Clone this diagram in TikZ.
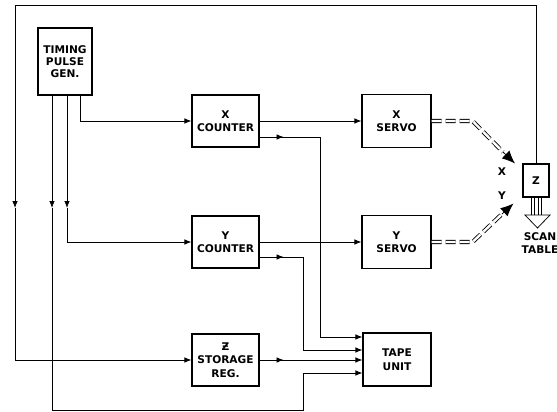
\documentclass[tikz,border=0pt]{standalone}
\usepackage{fontspec}
\setmainfont{DejaVu Sans}
\usetikzlibrary{arrows.meta,positioning}

\begin{document}
\begin{tikzpicture}[
    x=1pt, y=-1pt,
    every node/.style={font=\bfseries\fontsize{10.6}{13.5}\selectfont},
    block/.style={draw=black,line width=1.2pt,align=center,inner sep=0pt,
                  minimum width=67pt,minimum height=52pt},
    wire/.style={black,line width=0.75pt},
    tip/.style={-{Latex[length=7pt,width=5.5pt]}},
    servoline/.style={double=white,double distance=2.4pt,line width=0.85pt,
                      dash pattern=on 10pt off 4pt},
    bigtip/.style={-{Latex[length=13pt,width=11pt]},line width=0.8pt},
  ]
  \useasboundingbox (0,0) rectangle (557,412);

  % blocks
  \node[block,minimum width=54pt,minimum height=67pt,
        font=\bfseries\fontsize{10.6}{12}\selectfont] (timing) at (65,61.5) {TIMING\\PULSE\\GEN.};
  \node[block] (xcnt)   at (225.5,121) {X\\COUNTER};
  \node[block] (ycnt)   at (225.5,242) {Y\\COUNTER};
  \node[block] (zreg)   at (225.5,360) {Ƶ\\STORAGE\\REG.};
  \node[block,minimum width=69pt,minimum height=53pt] (xservo) at (396.5,121) {X\\SERVO};
  \node[block,minimum width=69pt,minimum height=53pt] (yservo) at (396.5,242) {Y\\SERVO};
  \node[block,minimum width=68pt,minimum height=53pt] (tape)   at (397,359.5) {TAPE\\UNIT};
  \node[block,minimum width=26pt,minimum height=33pt] (zbox)   at (536,180.5) {Z};

  % helper points
  \coordinate (corner) at (15,5);
  \coordinate (lmid)   at (15,208);
  \coordinate (g1) at ([xshift=-13pt]timing.south);
  \coordinate (g2) at ([xshift=2pt]timing.south);
  \coordinate (g3) at ([xshift=15pt]timing.south);
  \coordinate (xa) at ([yshift=-16pt]xcnt.east);
  \coordinate (ya) at ([yshift=-15pt]ycnt.east);
  \coordinate (t1) at ([yshift=22.5pt]tape.west);
  \coordinate (t2) at ([yshift=9.5pt]tape.west);
  \coordinate (t4) at ([yshift=-13.5pt]tape.west);

  % timing pulses
  \draw[wire,tip] (zbox.north) |- (corner) -- (lmid);
  \draw[wire,tip] (lmid) |- (zreg.west);
  \draw[wire,tip] (g3) |- (xcnt.west);
  \draw[wire,tip] (g2) -- (g2 |- lmid);
  \draw[wire,tip] (g2 |- lmid) |- (ycnt.west);
  \draw[wire,tip] (g1) -- (g1 |- lmid);
  \draw[wire,tip] (g1 |- lmid) -- ++(0,202) -- ++(251,0) |- (t4);

  % counters to servos and tape
  \draw[wire,tip] (xcnt.east) -- (xservo.west);
  \draw[wire,tip] (ycnt.east) -- (yservo.west);
  \draw[wire,tip] (xa) -- ++(24,0);
  \draw[wire,tip] (xa) -- ++(61,0) |- (t1);
  \draw[wire,tip] (ya) -- ++(24,0);
  \draw[wire,tip] (ya) -- ++(44,0) |- (t2);
  \draw[wire,tip] (zreg.east) -- ++(24,0);
  \draw[wire,tip] (zreg.east) -- (zreg.east -| tape.west);

  % servo drives to scan table
  \coordinate (xbend) at ([xshift=41pt]xservo.east);
  \coordinate (xbase) at (503,152);
  \coordinate (xtip)  at (515,163.5);
  \coordinate (ybend) at ([xshift=41pt]yservo.east);
  \coordinate (ybase) at (502,214);
  \coordinate (ytip)  at (513.5,203.5);
  \draw[servoline] (xservo.east) -- (xbend) -- (xbase);
  \draw[servoline] (yservo.east) -- (ybend) -- (ybase);
  \draw[bigtip] (xbase) -- (xtip);
  \draw[bigtip] (ybase) -- (ytip);
  \node (xlab) at (502,172) {X};
  \node (ylab) at (502,196) {Y};

  % scan table
  \foreach \x in {531,534.5,538,541.5}
    \draw[wire] (\x,197) -- (\x,215);
  \draw[wire,fill=white] (525,215) -- (550,215) -- (537.5,228) -- cycle;
  \node[align=center] (scan) at (540,243) {SCAN\\TABLE};
\end{tikzpicture}
\end{document}
